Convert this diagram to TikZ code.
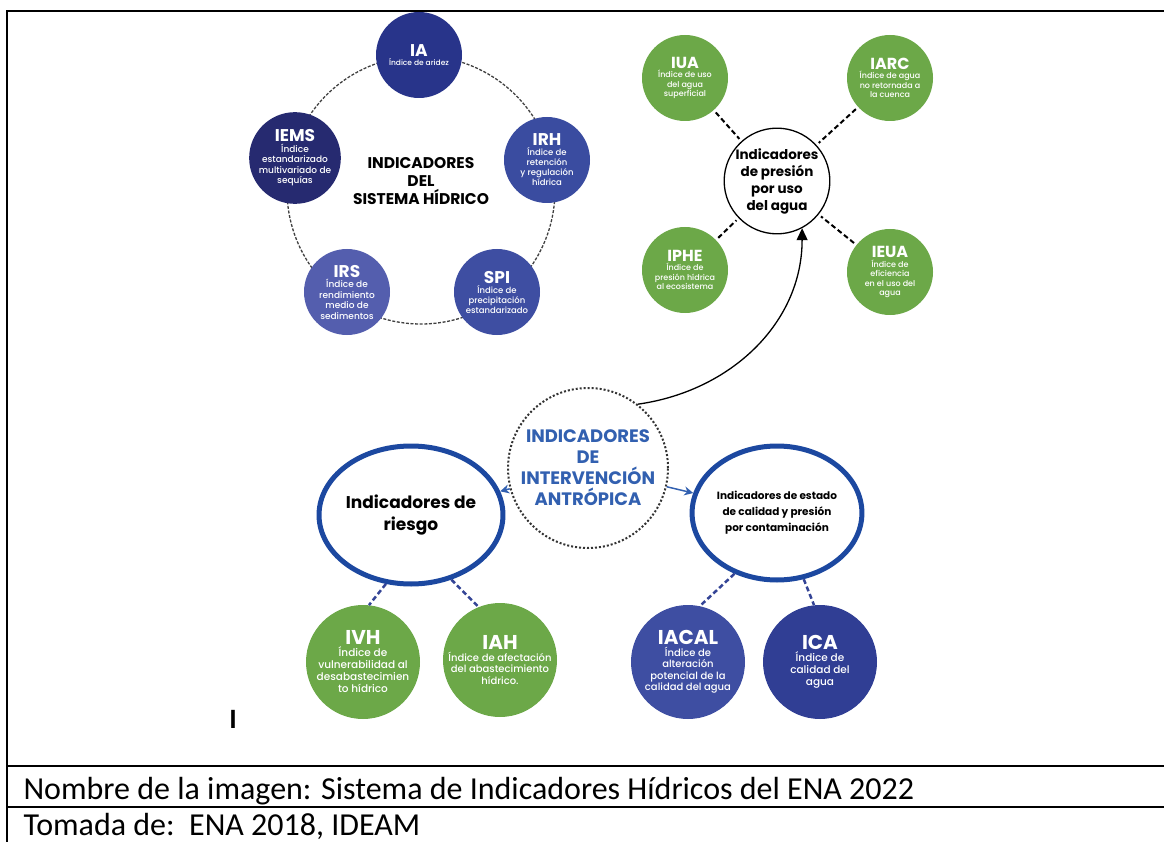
\documentclass[tikz,border=0pt]{standalone}
\usepackage{fontspec}
\setmainfont{Carlito}
\newfontfamily\mont{Poppins}
\IfFontExistsTF{Poppins Medium}{\newfontfamily\montm{Poppins Medium}}{\newfontfamily\montm{Poppins}[FakeBold=1.2]}
\usetikzlibrary{arrows.meta}
\usetikzlibrary{shapes.geometric}
\definecolor{iablue}{RGB}{40,52,138}
\definecolor{irhblue}{RGB}{58,76,160}
\definecolor{spiblue}{RGB}{62,78,162}
\definecolor{irsblue}{RGB}{84,94,174}
\definecolor{iemsblue}{RGB}{38,42,112}
\definecolor{icablue}{RGB}{48,62,148}
\definecolor{idxgreen}{RGB}{108,168,72}
\definecolor{ringblue}{RGB}{28,72,160}
\definecolor{antrblue}{RGB}{50,96,176}
\definecolor{linkblue}{RGB}{52,68,150}
\newcommand\ttl[2]{{\mont\bfseries\fontsize{#2}{#2}\selectfont #1}\\}
\tikzset{fs/.style 2 args={font=\montm\fontsize{#1}{#2}\selectfont}}
\tikzstyle{idx}=[circle,inner sep=0pt,text=white,align=center]
\tikzstyle{sm}=[idx,minimum size=86pt]
\tikzstyle{bg}=[idx,minimum size=114pt,fs={10.5}{12}]
\tikzstyle{ring}=[draw=black!75,line width=1.3pt,dash pattern=on 3pt off 1.6pt]
\tikzstyle{link}=[draw,line width=2pt,dash pattern=on 5pt off 3pt]
\tikzstyle{blink}=[link,draw=linkblue,line width=2.5pt]
\tikzstyle{bring}=[ellipse,draw=ringblue,line width=5pt,fill=white,align=center,inner sep=0pt]
\tikzstyle{barrow}=[-{Stealth[length=9pt,width=9pt]},draw=antrblue,line width=1.5pt]
\tikzstyle{curv}=[-{Triangle[length=12pt,width=11pt]},line width=1.3pt]
\tikzstyle{rule}=[line width=2.5pt]

\begin{document}
\begin{tikzpicture}[x=1pt,y=-1pt]
	\useasboundingbox (0,0) rectangle (1164,842);
	% marco de la tabla
	\draw[rule] (6,11) -- (1164,11);
	\draw[rule] (7,11) -- (7,842);
	\draw[rule] (7,766) -- (1164,766);
	\draw[rule] (7,807) -- (1164,807);
	\node[anchor=base west,font=\fontsize{32}{34}\selectfont] (nombre) at (20,799)
		{Nombre de la imagen: Sistema de Indicadores Hídricos del ENA 2022};
	\node[anchor=base west,font=\fontsize{32}{34}\selectfont] (tomada) at (20,835)
		{Tomada de:\ \ ENA 2018, IDEAM};
	\node[anchor=base,font=\bfseries\fontsize{28}{30}\selectfont] (marca) at (233,728) {I};

	% sistema hidrico
	\coordinate (sh) at (421,190);
	\draw[ring] (sh) circle[radius=134pt];
	\node[sm,fill=iablue,fs={7.5}{9}]     (ia)   at (419,55)  {\ttl{IA}{17}Índice de aridez};
	\node[sm,fill=irhblue,fs={8.5}{10}]   (irh)  at (547,160) {\ttl{IRH}{17}Índice de\\retención\\y regulación\\hídrica};
	\node[sm,fill=spiblue,fs={8.5}{10}]   (spi)  at (497,292) {\ttl{SPI}{17}Índice de\\precipitación\\estandarizado};
	\node[sm,fill=irsblue,fs={9}{10.5}]   (irs)  at (347,292) {\ttl{IRS}{17}Índice de\\rendimiento\\medio de\\sedimentos};
	\node[sm,fill=iemsblue,fs={9}{10.5}]  (iems) at (295,158) {\ttl{IEMS}{17}Índice\\estandarizado\\multivariado de\\sequías};
	\node[align=center,font=\mont\bfseries\fontsize{15.5}{18}\selectfont] (sist) at (421,181)
		{INDICADORES\\DEL\\SISTEMA HÍDRICO};

	% presion por uso
	\node[circle,draw,line width=1.3pt,minimum size=102pt,inner sep=0pt,align=center,
		font=\mont\bfseries\fontsize{13.5}{17}\selectfont] (pres) at (777,181)
		{Indicadores\\de presión\\por uso\\del agua};
	\node[sm,fill=idxgreen,fs={8}{9.5}] (iua)  at (685,78)  {\ttl{IUA}{16}Índice de uso\\del agua\\superficial};
	\node[sm,fill=idxgreen,fs={8}{9.5}] (iarc) at (890,78)  {\ttl{IARC}{16}Índice de agua\\no retornada a\\la cuenca};
	\node[sm,fill=idxgreen,fs={8}{9.5}] (iphe) at (685,270) {\ttl{IPHE}{16}Índice de\\presión hídrica\\al ecosistema};
	\node[sm,fill=idxgreen,fs={8}{9.5}] (ieua) at (890,272) {\ttl{IEUA}{16}Índice de\\eficiencia\\en el uso del\\agua};
	\foreach \n in {iua,iarc,iphe,ieua}
		\draw[link,shorten <=3pt,shorten >=3pt] (\n) -- (pres);

	% intervencion antropica
	\node[circle,draw=black!80,line width=2pt,dotted,minimum size=160pt,inner sep=0pt,align=center,
		text=antrblue,font=\mont\bfseries\fontsize{18}{21}\selectfont] (antr) at (588,468)
		{INDICADORES\\DE\\INTERVENCIÓN\\ANTRÓPICA};
	\draw[curv] (antr.52) to[out=8,in=-90] (pres.-62);

	\node[bring,minimum width=178pt,minimum height=138pt,
		font=\mont\bfseries\fontsize{17}{22}\selectfont] (riesgo) at (411,515)
		{Indicadores de\\riesgo};
	\node[bring,minimum width=166pt,minimum height=134pt,
		font=\mont\bfseries\fontsize{10.5}{16}\selectfont] (estado) at (777,513)
		{Indicadores de estado\\de calidad y presión\\por contaminación};
	\draw[barrow] (antr) -- (riesgo);
	\draw[barrow] (antr) -- (estado);

	\node[bg,fill=idxgreen] (ivh) at (363,662) {\ttl{IVH}{20}Índice de\\vulnerabilidad al\\desabastecimien\\to hídrico};
	\node[bg,fill=idxgreen,fs={10}{11.5}] (iah) at (500,660) {\ttl{IAH}{20}Índice de afectación\\del abastecimiento\\hídrico.};
	\node[bg,fill=spiblue,fs={10}{11.5}] (iacal) at (688,662) {\ttl{IACAL}{20}Índice de\\alteración\\potencial de la\\calidad del agua};
	\node[bg,fill=icablue] (ica) at (820,662) {\ttl{ICA}{20}Índice de\\calidad del\\agua};
	\draw[blink] (riesgo.250) -- (ivh.84);
	\draw[blink] (riesgo.302) -- (iah.112);
	\draw[blink] (estado.235) -- (iacal.78);
	\draw[blink] (estado.292) -- (ica.96);
\end{tikzpicture}
\end{document}
